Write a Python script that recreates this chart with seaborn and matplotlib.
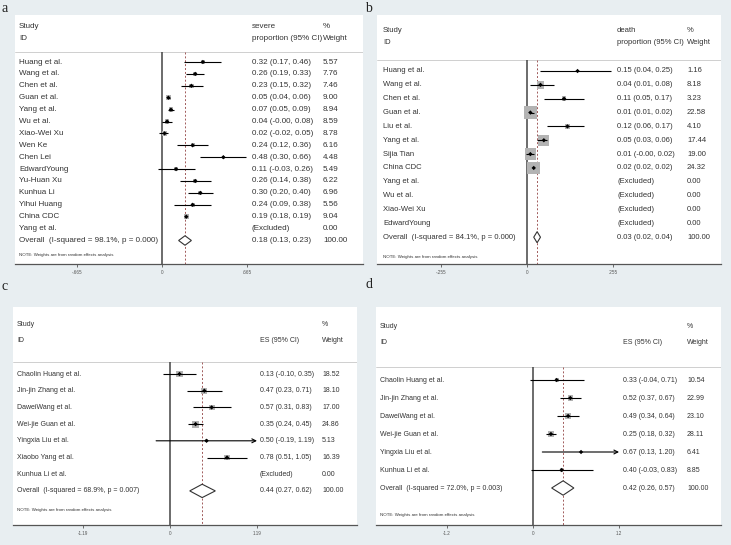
import numpy as np
import pandas as pd
import seaborn as sns
import matplotlib.pyplot as plt
from matplotlib.patches import Polygon

# ---- data: panel a (severe proportion) ----
a_study = ["Huang et al.", "Wang et al.", "Chen et al.", "Guan et al.", "Yang et al.",
           "Wu et al.", "Xiao-Wei Xu", "Wen Ke", "Chen Lei", "EdwardYoung",
           "Yu-Huan Xu", "Kunhua Li", "Yihui Huang", "China CDC", "Yang et al."]
a_est = [0.32, 0.26, 0.23, 0.05, 0.07, 0.04, 0.02, 0.24, 0.48, 0.11, 0.26, 0.30, 0.24, 0.19, np.nan]
a_lo = [0.17, 0.19, 0.15, 0.04, 0.05, -0.003, -0.02, 0.12, 0.30, -0.03, 0.14, 0.20, 0.09, 0.18, np.nan]
a_hi = [0.46, 0.33, 0.32, 0.06, 0.09, 0.08, 0.05, 0.36, 0.66, 0.26, 0.38, 0.40, 0.38, 0.19, np.nan]
a_weight = [5.57, 7.76, 7.46, 9.00, 8.94, 8.59, 8.78, 6.16, 4.48, 5.49, 6.22, 6.96, 5.56, 9.04, 0.00]
a_overall = [0.18, 0.13, 0.23]
a_het = "Overall  (I-squared = 98.1%, p = 0.000)"

# ---- data: panel b (death proportion) ----
b_study = ["Huang et al.", "Wang et al.", "Chen et al.", "Guan et al.", "Liu et al.",
           "Yang et al.", "Sijia Tian", "China CDC", "Yang et al.", "Wu et al.",
           "Xiao-Wei Xu", "EdwardYoung"]
b_est = [0.15, 0.04, 0.11, 0.01, 0.12, 0.05, 0.01, 0.02, np.nan, np.nan, np.nan, np.nan]
b_lo = [0.04, 0.01, 0.05, 0.01, 0.06, 0.03, -0.003, 0.02, np.nan, np.nan, np.nan, np.nan]
b_hi = [0.25, 0.08, 0.17, 0.02, 0.17, 0.06, 0.02, 0.02, np.nan, np.nan, np.nan, np.nan]
b_weight = [1.16, 8.18, 3.23, 22.58, 4.10, 17.44, 19.00, 24.32, 0.00, 0.00, 0.00, 0.00]
b_overall = [0.03, 0.02, 0.04]
b_het = "Overall  (I-squared = 84.1%, p = 0.000)"

# ---- data: panel c ----
c_study = ["Chaolin Huang et al.", "Jin-jin Zhang et al.", "DaweiWang et al.",
           "Wei-jie Guan et al.", "Yingxia Liu et al.", "Xiaobo Yang et al.", "Kunhua Li et al."]
c_est = [0.13, 0.47, 0.57, 0.35, 0.50, 0.78, np.nan]
c_lo = [-0.10, 0.23, 0.31, 0.24, -0.19, 0.51, np.nan]
c_hi = [0.35, 0.71, 0.83, 0.45, 1.19, 1.05, np.nan]
c_weight = [18.52, 18.10, 17.00, 24.86, 5.13, 16.39, 0.00]
c_overall = [0.44, 0.27, 0.62]
c_het = "Overall  (I-squared = 68.9%, p = 0.007)"

# ---- data: panel d ----
d_study = ["Chaolin Huang et al.", "Jin-jin Zhang et al.", "DaweiWang et al.",
           "Wei-jie Guan et al.", "Yingxia Liu et al.", "Kunhua Li et al."]
d_est = [0.33, 0.52, 0.49, 0.25, 0.67, 0.40]
d_lo = [-0.04, 0.37, 0.34, 0.18, 0.13, -0.03]
d_hi = [0.71, 0.67, 0.64, 0.32, 1.20, 0.83]
d_weight = [10.54, 22.99, 23.10, 28.11, 6.41, 8.85]
d_overall = [0.42, 0.26, 0.57]
d_het = "Overall  (I-squared = 72.0%, p = 0.003)"

W, H = 731, 545
sns.set_theme(style="white")
plt.rcParams["font.family"] = ["Liberation Sans", "DejaVu Sans"]
TXT = "#333333"

fig = plt.figure(figsize=(W / 100, H / 100), dpi=100, facecolor="#e8eef1")


def forest(study, est, lo, hi, wt, overall, het, lay):
    x0, y0, x1, y1 = lay["box"]
    zero, unit, row0, dy = lay["zero"], lay["unit"], lay["row0"], lay["dy"]
    xd = lambda px: (px - zero) / unit
    yd = lambda py: (py - row0) / dy
    ax = fig.add_axes([x0 / W, 1 - y1 / H, (x1 - x0) / W, (y1 - y0) / H])
    ax.set_facecolor("white")
    ax.set_xlim(xd(x0), xd(x1))
    ax.set_ylim(yd(y1), yd(y0))
    for s in ["top", "left", "right"]:
        ax.spines[s].set_visible(False)
    ax.spines["bottom"].set_color("#555555")
    ax.spines["bottom"].set_linewidth(0.9)
    t = lay["tick"]
    ax.set_xticks([-t, 0, t])
    ax.set_xticklabels(lay["ticklabels"])
    ax.set_yticks([])
    ax.tick_params(axis="x", length=2.5, width=0.6, color="#555555",
                   labelsize=3.3, labelcolor="#555555", pad=1.5, bottom=True)
    ax.grid(False)

    fs = lay["fs"]
    n = len(study)
    df = pd.DataFrame({"study": study, "est": est, "lo": lo, "hi": hi, "w": wt})
    df["row"] = np.arange(n)
    ov_row = n
    bottom = yd(y1)
    sep = yd(lay["sep"])

    # header
    ax.axhline(sep, color="#c8c8c8", lw=0.6)
    ax.text(xd(lay["label_x"]), yd(lay["study_y"]), "Study", fontsize=fs, color=TXT, va="center")
    ax.text(xd(lay["label_x"]), yd(lay["id_y"]), "ID", fontsize=fs, color=TXT, va="center")
    h1, h2 = lay["head"]
    if h1:
        ax.text(xd(lay["val_x"]), yd(lay["study_y"]), h1, fontsize=fs, color=TXT, va="center")
    ax.text(xd(lay["val_x"]), yd(lay["id_y"]), h2, fontsize=fs, color=TXT, va="center")
    ax.text(xd(lay["wt_x"]), yd(lay["study_y"]), "%", fontsize=fs, color=TXT, va="center")
    ax.text(xd(lay["wt_x"]), yd(lay["id_y"]), "Weight", fontsize=fs, color=TXT, va="center")

    # reference lines
    ax.vlines(0, sep, bottom, color="#444444", lw=1.1)
    ax.vlines(overall[0], sep, bottom, color="#a05a5a", lw=0.7, linestyles=(0, (2, 2)))

    ok = df.dropna(subset=["est"])
    # weight boxes
    sizes = (lay["box_f"] * np.sqrt(ok["w"]) * 0.72) ** 2
    sns.scatterplot(data=ok, x="est", y="row", marker="s", s=sizes.values,
                    color="#b3b3b3", edgecolor="none", linewidth=0, ax=ax, zorder=2)
    # confidence intervals
    for _, r in ok.iterrows():
        if r["hi"] >= t:
            ax.annotate("", xy=(t, r["row"]), xytext=(r["lo"], r["row"]),
                        arrowprops=dict(arrowstyle="->", lw=0.8, color="black",
                                        mutation_scale=7, shrinkA=0, shrinkB=0), zorder=3)
        else:
            ax.hlines(r["row"], r["lo"], r["hi"], color="black", lw=0.8, zorder=3)
    sns.scatterplot(data=ok, x="est", y="row", marker="D", s=5, color="black",
                    edgecolor="none", linewidth=0, ax=ax, zorder=4)
    ax.set_xlabel("")
    ax.set_ylabel("")

    # overall diamond
    e, l, u = overall
    hh = 0.4
    ax.add_patch(Polygon([(l, ov_row), (e, ov_row - hh), (u, ov_row), (e, ov_row + hh)],
                         closed=True, facecolor="white", edgecolor="#333333", lw=0.8, zorder=4))

    # row text
    for _, r in df.iterrows():
        ax.text(xd(lay["label_x"]), r["row"], r["study"], fontsize=fs, color=TXT, va="center")
        if np.isnan(r["est"]):
            ci = "(Excluded)"
        else:
            ci = f"{r['est']:.2f} ({r['lo']:.2f}, {r['hi']:.2f})"
        ax.text(xd(lay["val_x"]), r["row"], ci, fontsize=fs, color=TXT, va="center")
        ax.text(xd(lay["wt_x"]), r["row"], f"{r['w']:.2f}", fontsize=fs, color=TXT, va="center")
    ax.text(xd(lay["label_x"]), ov_row, het, fontsize=fs, color=TXT, va="center")
    ax.text(xd(lay["val_x"]), ov_row, f"{e:.2f} ({l:.2f}, {u:.2f})", fontsize=fs, color=TXT, va="center")
    ax.text(xd(lay["wt_x"]), ov_row, "100.00", fontsize=fs, color=TXT, va="center")
    ax.text(xd(lay["label_x"]), yd(lay["note_y"]), "NOTE: Weights are from random effects analysis",
            fontsize=3.2, color=TXT, va="center")
    return ax


lay_a = dict(box=(15, 15, 363, 264), zero=162, unit=127.8, tick=0.665,
             ticklabels=["-.665", "0", ".665"], row0=62, dy=11.9, study_y=27, id_y=39,
             sep=52, note_y=255, label_x=19, val_x=252, wt_x=323, fs=5.8, box_f=1.6,
             head=("severe", "proportion (95% CI)"))
lay_b = dict(box=(377, 15, 721, 264), zero=527, unit=337, tick=0.255,
             ticklabels=["-.255", "0", ".255"], row0=71, dy=13.85, study_y=30, id_y=43,
             sep=60, note_y=257, label_x=383, val_x=617, wt_x=687, fs=5.5, box_f=2.6,
             head=("death", "proportion (95% CI)"))
lay_c = dict(box=(13, 307, 357, 525), zero=170, unit=73.1, tick=1.19,
             ticklabels=["-1.19", "0", "1.19"], row0=374, dy=16.7, study_y=324, id_y=341,
             sep=362, note_y=510, label_x=17, val_x=260, wt_x=322, fs=5.0, box_f=1.4,
             head=("", "ES (95% CI)"))
lay_d = dict(box=(376, 307, 721, 525), zero=533, unit=71.7, tick=1.2,
             ticklabels=["-1.2", "0", "1.2"], row0=380, dy=18, study_y=326, id_y=343,
             sep=367, note_y=515, label_x=380, val_x=623, wt_x=687, fs=5.0, box_f=1.15,
             head=("", "ES (95% CI)"))

forest(a_study, a_est, a_lo, a_hi, a_weight, a_overall, a_het, lay_a)
forest(b_study, b_est, b_lo, b_hi, b_weight, b_overall, b_het, lay_b)
forest(c_study, c_est, c_lo, c_hi, c_weight, c_overall, c_het, lay_c)
forest(d_study, d_est, d_lo, d_hi, d_weight, d_overall, d_het, lay_d)

# panel letters
for lab, px, py in [("a", 2, 8), ("b", 365, 8), ("c", 2, 287), ("d", 365, 285)]:
    fig.text(px / W, 1 - py / H, lab, fontsize=10, family="Liberation Serif",
             color="#222222", va="center", ha="left")

fig.savefig("out.png", dpi=100, facecolor=fig.get_facecolor())
